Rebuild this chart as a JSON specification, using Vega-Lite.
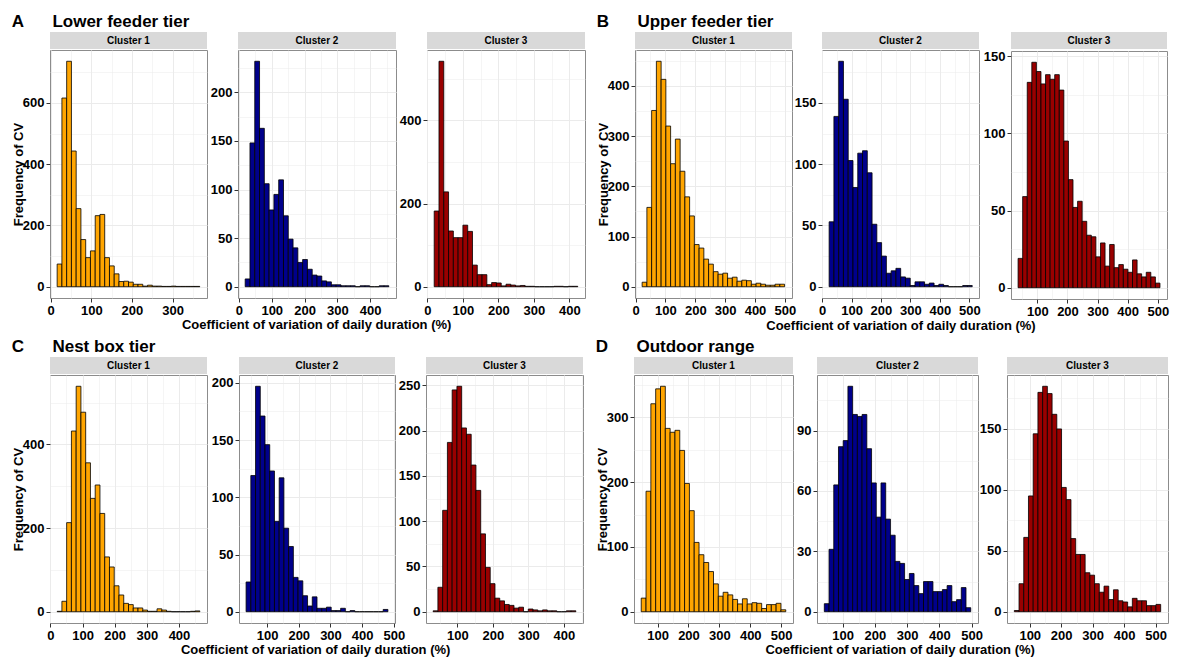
{
  "$schema": "https://vega.github.io/schema/vega-lite/v6.json",
  "background": "white",
  "padding": {"left": 11, "top": 13, "right": 4, "bottom": 2},
  "datasets": {
    "a1": [
      {"x0": 16, "x1": 27.7, "n": 74}, {"x0": 27.7, "x1": 39.4, "n": 616}, {"x0": 39.4, "x1": 51.1, "n": 736},
      {"x0": 51.1, "x1": 62.8, "n": 443}, {"x0": 62.8, "x1": 74.5, "n": 255}, {"x0": 74.5, "x1": 86.2, "n": 154},
      {"x0": 86.2, "x1": 97.9, "n": 95}, {"x0": 97.9, "x1": 109.6, "n": 117}, {"x0": 109.6, "x1": 121.3, "n": 232},
      {"x0": 121.3, "x1": 133, "n": 236}, {"x0": 133, "x1": 144.7, "n": 95}, {"x0": 144.7, "x1": 156.4, "n": 68},
      {"x0": 156.4, "x1": 168.1, "n": 42}, {"x0": 168.1, "x1": 179.8, "n": 17}, {"x0": 179.8, "x1": 191.5, "n": 18},
      {"x0": 191.5, "x1": 203.2, "n": 15}, {"x0": 203.2, "x1": 214.9, "n": 8}, {"x0": 214.9, "x1": 226.6, "n": 8},
      {"x0": 226.6, "x1": 238.3, "n": 2}, {"x0": 238.3, "x1": 250, "n": 5}, {"x0": 250, "x1": 261.7, "n": 2},
      {"x0": 261.7, "x1": 273.4, "n": 2}, {"x0": 273.4, "x1": 285.1, "n": 1}, {"x0": 285.1, "x1": 296.8, "n": 1},
      {"x0": 296.8, "x1": 308.5, "n": 2}, {"x0": 308.5, "x1": 320.2, "n": 1}, {"x0": 320.2, "x1": 331.9, "n": 1},
      {"x0": 331.9, "x1": 343.6, "n": 1}, {"x0": 343.6, "x1": 355.3, "n": 1}, {"x0": 355.3, "x1": 367, "n": 1}
    ],
    "a2": [
      {"x0": 19, "x1": 33.6, "n": 8}, {"x0": 33.6, "x1": 48.2, "n": 148}, {"x0": 48.2, "x1": 62.8, "n": 232},
      {"x0": 62.8, "x1": 77.4, "n": 163}, {"x0": 77.4, "x1": 92, "n": 106}, {"x0": 92, "x1": 106.6, "n": 79},
      {"x0": 106.6, "x1": 121.2, "n": 95}, {"x0": 121.2, "x1": 135.8, "n": 110}, {"x0": 135.8, "x1": 150.4, "n": 73},
      {"x0": 150.4, "x1": 165, "n": 49}, {"x0": 165, "x1": 179.6, "n": 40}, {"x0": 179.6, "x1": 194.2, "n": 25},
      {"x0": 194.2, "x1": 208.8, "n": 28}, {"x0": 208.8, "x1": 223.4, "n": 18}, {"x0": 223.4, "x1": 238, "n": 12},
      {"x0": 238, "x1": 252.6, "n": 11}, {"x0": 252.6, "x1": 267.2, "n": 6}, {"x0": 267.2, "x1": 281.8, "n": 5},
      {"x0": 281.8, "x1": 296.4, "n": 2}, {"x0": 296.4, "x1": 311, "n": 2}, {"x0": 311, "x1": 325.6, "n": 1},
      {"x0": 325.6, "x1": 340.2, "n": 1}, {"x0": 340.2, "x1": 354.8, "n": 1}, {"x0": 354.8, "x1": 369.4, "n": 0},
      {"x0": 369.4, "x1": 384, "n": 1}, {"x0": 384, "x1": 398.6, "n": 1}, {"x0": 398.6, "x1": 413.2, "n": 0},
      {"x0": 413.2, "x1": 427.8, "n": 0}, {"x0": 427.8, "x1": 442.4, "n": 1}, {"x0": 442.4, "x1": 457, "n": 1}
    ],
    "a3": [
      {"x0": 19, "x1": 32.5, "n": 182}, {"x0": 32.5, "x1": 46, "n": 542}, {"x0": 46, "x1": 59.5, "n": 228},
      {"x0": 59.5, "x1": 73, "n": 134}, {"x0": 73, "x1": 86.5, "n": 118}, {"x0": 86.5, "x1": 100, "n": 118},
      {"x0": 100, "x1": 113.5, "n": 148}, {"x0": 113.5, "x1": 127, "n": 133}, {"x0": 127, "x1": 140.5, "n": 52},
      {"x0": 140.5, "x1": 154, "n": 29}, {"x0": 154, "x1": 167.5, "n": 29}, {"x0": 167.5, "x1": 181, "n": 5},
      {"x0": 181, "x1": 194.5, "n": 10}, {"x0": 194.5, "x1": 208, "n": 9}, {"x0": 208, "x1": 221.5, "n": 2},
      {"x0": 221.5, "x1": 235, "n": 6}, {"x0": 235, "x1": 248.5, "n": 4}, {"x0": 248.5, "x1": 262, "n": 2},
      {"x0": 262, "x1": 275.5, "n": 3}, {"x0": 275.5, "x1": 289, "n": 1}, {"x0": 289, "x1": 302.5, "n": 1},
      {"x0": 302.5, "x1": 316, "n": 0}, {"x0": 316, "x1": 329.5, "n": 0}, {"x0": 329.5, "x1": 343, "n": 0},
      {"x0": 343, "x1": 356.5, "n": 0}, {"x0": 356.5, "x1": 370, "n": 1}, {"x0": 370, "x1": 383.5, "n": 1},
      {"x0": 383.5, "x1": 397, "n": 0}, {"x0": 397, "x1": 410.5, "n": 1}, {"x0": 410.5, "x1": 424, "n": 1}
    ],
    "b1": [
      {"x0": 22, "x1": 37.9, "n": 9}, {"x0": 37.9, "x1": 53.8, "n": 158}, {"x0": 53.8, "x1": 69.7, "n": 351},
      {"x0": 69.7, "x1": 85.6, "n": 449}, {"x0": 85.6, "x1": 101.5, "n": 413}, {"x0": 101.5, "x1": 117.4, "n": 320},
      {"x0": 117.4, "x1": 133.3, "n": 245}, {"x0": 133.3, "x1": 149.2, "n": 294}, {"x0": 149.2, "x1": 165.1, "n": 230},
      {"x0": 165.1, "x1": 181, "n": 179}, {"x0": 181, "x1": 196.9, "n": 141}, {"x0": 196.9, "x1": 212.8, "n": 84},
      {"x0": 212.8, "x1": 228.7, "n": 77}, {"x0": 228.7, "x1": 244.6, "n": 55}, {"x0": 244.6, "x1": 260.5, "n": 45},
      {"x0": 260.5, "x1": 276.4, "n": 30}, {"x0": 276.4, "x1": 292.3, "n": 25}, {"x0": 292.3, "x1": 308.2, "n": 27},
      {"x0": 308.2, "x1": 324.1, "n": 17}, {"x0": 324.1, "x1": 340, "n": 19}, {"x0": 340, "x1": 355.9, "n": 11},
      {"x0": 355.9, "x1": 371.8, "n": 13}, {"x0": 371.8, "x1": 387.7, "n": 12}, {"x0": 387.7, "x1": 403.6, "n": 5},
      {"x0": 403.6, "x1": 419.5, "n": 7}, {"x0": 419.5, "x1": 435.4, "n": 5}, {"x0": 435.4, "x1": 451.3, "n": 3},
      {"x0": 451.3, "x1": 467.2, "n": 3}, {"x0": 467.2, "x1": 483.1, "n": 5}, {"x0": 483.1, "x1": 499, "n": 5}
    ],
    "b2": [
      {"x0": 24, "x1": 40.2, "n": 53}, {"x0": 40.2, "x1": 56.4, "n": 139}, {"x0": 56.4, "x1": 72.6, "n": 184},
      {"x0": 72.6, "x1": 88.8, "n": 153}, {"x0": 88.8, "x1": 105, "n": 103}, {"x0": 105, "x1": 121.2, "n": 81},
      {"x0": 121.2, "x1": 137.4, "n": 109}, {"x0": 137.4, "x1": 153.6, "n": 111}, {"x0": 153.6, "x1": 169.8, "n": 93},
      {"x0": 169.8, "x1": 186, "n": 51}, {"x0": 186, "x1": 202.2, "n": 36}, {"x0": 202.2, "x1": 218.4, "n": 25},
      {"x0": 218.4, "x1": 234.6, "n": 11}, {"x0": 234.6, "x1": 250.8, "n": 13}, {"x0": 250.8, "x1": 267, "n": 15},
      {"x0": 267, "x1": 283.2, "n": 8}, {"x0": 283.2, "x1": 299.4, "n": 7}, {"x0": 299.4, "x1": 315.6, "n": 1},
      {"x0": 315.6, "x1": 331.8, "n": 4}, {"x0": 331.8, "x1": 348, "n": 4}, {"x0": 348, "x1": 364.2, "n": 2},
      {"x0": 364.2, "x1": 380.4, "n": 3}, {"x0": 380.4, "x1": 396.6, "n": 1}, {"x0": 396.6, "x1": 412.8, "n": 2},
      {"x0": 412.8, "x1": 429, "n": 1}, {"x0": 429, "x1": 445.2, "n": 0}, {"x0": 445.2, "x1": 461.4, "n": 0},
      {"x0": 461.4, "x1": 477.6, "n": 0}, {"x0": 477.6, "x1": 493.8, "n": 1}, {"x0": 493.8, "x1": 510, "n": 1}
    ],
    "b3": [
      {"x0": 36, "x1": 51.2, "n": 19}, {"x0": 51.2, "x1": 66.4, "n": 59}, {"x0": 66.4, "x1": 81.6, "n": 133},
      {"x0": 81.6, "x1": 96.8, "n": 146}, {"x0": 96.8, "x1": 112, "n": 140}, {"x0": 112, "x1": 127.2, "n": 132},
      {"x0": 127.2, "x1": 142.4, "n": 138}, {"x0": 142.4, "x1": 157.6, "n": 135}, {"x0": 157.6, "x1": 172.8, "n": 138},
      {"x0": 172.8, "x1": 188, "n": 128}, {"x0": 188, "x1": 203.2, "n": 95}, {"x0": 203.2, "x1": 218.4, "n": 70},
      {"x0": 218.4, "x1": 233.6, "n": 52}, {"x0": 233.6, "x1": 248.8, "n": 56}, {"x0": 248.8, "x1": 264, "n": 43},
      {"x0": 264, "x1": 279.2, "n": 34}, {"x0": 279.2, "x1": 294.4, "n": 33}, {"x0": 294.4, "x1": 309.6, "n": 20},
      {"x0": 309.6, "x1": 324.8, "n": 29}, {"x0": 324.8, "x1": 340, "n": 14}, {"x0": 340, "x1": 355.2, "n": 28},
      {"x0": 355.2, "x1": 370.4, "n": 13}, {"x0": 370.4, "x1": 385.6, "n": 15}, {"x0": 385.6, "x1": 400.8, "n": 12},
      {"x0": 400.8, "x1": 416, "n": 10}, {"x0": 416, "x1": 431.2, "n": 18}, {"x0": 431.2, "x1": 446.4, "n": 9},
      {"x0": 446.4, "x1": 461.6, "n": 7}, {"x0": 461.6, "x1": 476.8, "n": 10}, {"x0": 476.8, "x1": 492, "n": 7},
      {"x0": 492, "x1": 507.2, "n": 3}
    ],
    "c1": [
      {"x0": 21, "x1": 35.8, "n": 1}, {"x0": 35.8, "x1": 50.6, "n": 25}, {"x0": 50.6, "x1": 65.4, "n": 213},
      {"x0": 65.4, "x1": 80.2, "n": 432}, {"x0": 80.2, "x1": 95, "n": 539}, {"x0": 95, "x1": 109.8, "n": 477},
      {"x0": 109.8, "x1": 124.6, "n": 356}, {"x0": 124.6, "x1": 139.4, "n": 271}, {"x0": 139.4, "x1": 154.2, "n": 303},
      {"x0": 154.2, "x1": 169, "n": 235}, {"x0": 169, "x1": 183.8, "n": 131}, {"x0": 183.8, "x1": 198.6, "n": 107},
      {"x0": 198.6, "x1": 213.4, "n": 62}, {"x0": 213.4, "x1": 228.2, "n": 40}, {"x0": 228.2, "x1": 243, "n": 20},
      {"x0": 243, "x1": 257.8, "n": 17}, {"x0": 257.8, "x1": 272.6, "n": 9}, {"x0": 272.6, "x1": 287.4, "n": 9},
      {"x0": 287.4, "x1": 302.2, "n": 4}, {"x0": 302.2, "x1": 317, "n": 1}, {"x0": 317, "x1": 331.8, "n": 1},
      {"x0": 331.8, "x1": 346.6, "n": 7}, {"x0": 346.6, "x1": 361.4, "n": 4}, {"x0": 361.4, "x1": 376.2, "n": 1},
      {"x0": 376.2, "x1": 391, "n": 0}, {"x0": 391, "x1": 405.8, "n": 0}, {"x0": 405.8, "x1": 420.6, "n": 0},
      {"x0": 420.6, "x1": 435.4, "n": 0}, {"x0": 435.4, "x1": 450.2, "n": 1}, {"x0": 450.2, "x1": 465, "n": 2}
    ],
    "c2": [
      {"x0": 34, "x1": 48.9, "n": 26}, {"x0": 48.9, "x1": 63.8, "n": 119}, {"x0": 63.8, "x1": 78.7, "n": 197},
      {"x0": 78.7, "x1": 93.6, "n": 171}, {"x0": 93.6, "x1": 108.5, "n": 146}, {"x0": 108.5, "x1": 123.4, "n": 123},
      {"x0": 123.4, "x1": 138.3, "n": 79}, {"x0": 138.3, "x1": 153.2, "n": 117}, {"x0": 153.2, "x1": 168.1, "n": 73},
      {"x0": 168.1, "x1": 183, "n": 57}, {"x0": 183, "x1": 197.9, "n": 30}, {"x0": 197.9, "x1": 212.8, "n": 27},
      {"x0": 212.8, "x1": 227.7, "n": 14}, {"x0": 227.7, "x1": 242.6, "n": 5}, {"x0": 242.6, "x1": 257.5, "n": 13},
      {"x0": 257.5, "x1": 272.4, "n": 3}, {"x0": 272.4, "x1": 287.3, "n": 3}, {"x0": 287.3, "x1": 302.2, "n": 4},
      {"x0": 302.2, "x1": 317.1, "n": 1}, {"x0": 317.1, "x1": 332, "n": 1}, {"x0": 332, "x1": 346.9, "n": 3},
      {"x0": 346.9, "x1": 361.8, "n": 0}, {"x0": 361.8, "x1": 376.7, "n": 1}, {"x0": 376.7, "x1": 391.6, "n": 0},
      {"x0": 391.6, "x1": 406.5, "n": 0}, {"x0": 406.5, "x1": 421.4, "n": 0}, {"x0": 421.4, "x1": 436.3, "n": 0},
      {"x0": 436.3, "x1": 451.2, "n": 0}, {"x0": 451.2, "x1": 466.1, "n": 0}, {"x0": 466.1, "x1": 481, "n": 2}
    ],
    "c3": [
      {"x0": 32, "x1": 45.4, "n": 1}, {"x0": 45.4, "x1": 58.8, "n": 27}, {"x0": 58.8, "x1": 72.2, "n": 112},
      {"x0": 72.2, "x1": 85.6, "n": 187}, {"x0": 85.6, "x1": 99, "n": 245}, {"x0": 99, "x1": 112.4, "n": 249},
      {"x0": 112.4, "x1": 125.8, "n": 203}, {"x0": 125.8, "x1": 139.2, "n": 196}, {"x0": 139.2, "x1": 152.6, "n": 162},
      {"x0": 152.6, "x1": 166, "n": 134}, {"x0": 166, "x1": 179.4, "n": 86}, {"x0": 179.4, "x1": 192.8, "n": 49},
      {"x0": 192.8, "x1": 206.2, "n": 31}, {"x0": 206.2, "x1": 219.6, "n": 15}, {"x0": 219.6, "x1": 233, "n": 12},
      {"x0": 233, "x1": 246.4, "n": 8}, {"x0": 246.4, "x1": 259.8, "n": 7}, {"x0": 259.8, "x1": 273.2, "n": 4},
      {"x0": 273.2, "x1": 286.6, "n": 5}, {"x0": 286.6, "x1": 300, "n": 0}, {"x0": 300, "x1": 313.4, "n": 3},
      {"x0": 313.4, "x1": 326.8, "n": 2}, {"x0": 326.8, "x1": 340.2, "n": 1}, {"x0": 340.2, "x1": 353.6, "n": 2},
      {"x0": 353.6, "x1": 367, "n": 1}, {"x0": 367, "x1": 380.4, "n": 1}, {"x0": 380.4, "x1": 393.8, "n": 0},
      {"x0": 393.8, "x1": 407.2, "n": 0}, {"x0": 407.2, "x1": 420.6, "n": 1}, {"x0": 420.6, "x1": 434, "n": 1}
    ],
    "d1": [
      {"x0": 47, "x1": 62.6, "n": 21}, {"x0": 62.6, "x1": 78.2, "n": 186}, {"x0": 78.2, "x1": 93.8, "n": 321},
      {"x0": 93.8, "x1": 109.4, "n": 344}, {"x0": 109.4, "x1": 125, "n": 348}, {"x0": 125, "x1": 140.6, "n": 283},
      {"x0": 140.6, "x1": 156.2, "n": 277}, {"x0": 156.2, "x1": 171.8, "n": 280}, {"x0": 171.8, "x1": 187.4, "n": 249},
      {"x0": 187.4, "x1": 203, "n": 198}, {"x0": 203, "x1": 218.6, "n": 156}, {"x0": 218.6, "x1": 234.2, "n": 107},
      {"x0": 234.2, "x1": 249.8, "n": 88}, {"x0": 249.8, "x1": 265.4, "n": 76}, {"x0": 265.4, "x1": 281, "n": 62},
      {"x0": 281, "x1": 296.6, "n": 43}, {"x0": 296.6, "x1": 312.2, "n": 24}, {"x0": 312.2, "x1": 327.8, "n": 30},
      {"x0": 327.8, "x1": 343.4, "n": 26}, {"x0": 343.4, "x1": 359, "n": 19}, {"x0": 359, "x1": 374.6, "n": 12},
      {"x0": 374.6, "x1": 390.2, "n": 20}, {"x0": 390.2, "x1": 405.8, "n": 12}, {"x0": 405.8, "x1": 421.4, "n": 14},
      {"x0": 421.4, "x1": 437, "n": 13}, {"x0": 437, "x1": 452.6, "n": 5}, {"x0": 452.6, "x1": 468.2, "n": 11},
      {"x0": 468.2, "x1": 483.8, "n": 11}, {"x0": 483.8, "x1": 499.4, "n": 13}, {"x0": 499.4, "x1": 515, "n": 3}
    ],
    "d2": [
      {"x0": 43, "x1": 57.65, "n": 4}, {"x0": 57.65, "x1": 72.3, "n": 31}, {"x0": 72.3, "x1": 86.95, "n": 63},
      {"x0": 86.95, "x1": 101.6, "n": 82}, {"x0": 101.6, "x1": 116.25, "n": 85}, {"x0": 116.25, "x1": 130.9, "n": 112},
      {"x0": 130.9, "x1": 145.55, "n": 98}, {"x0": 145.55, "x1": 160.2, "n": 97}, {"x0": 160.2, "x1": 174.85, "n": 98},
      {"x0": 174.85, "x1": 189.5, "n": 81}, {"x0": 189.5, "x1": 204.15, "n": 64}, {"x0": 204.15, "x1": 218.8, "n": 47},
      {"x0": 218.8, "x1": 233.45, "n": 64}, {"x0": 233.45, "x1": 248.1, "n": 46}, {"x0": 248.1, "x1": 262.75, "n": 38},
      {"x0": 262.75, "x1": 277.4, "n": 25}, {"x0": 277.4, "x1": 292.05, "n": 24}, {"x0": 292.05, "x1": 306.7, "n": 16},
      {"x0": 306.7, "x1": 321.35, "n": 19}, {"x0": 321.35, "x1": 336, "n": 13}, {"x0": 336, "x1": 350.65, "n": 9},
      {"x0": 350.65, "x1": 365.3, "n": 15}, {"x0": 365.3, "x1": 379.95, "n": 15}, {"x0": 379.95, "x1": 394.6, "n": 10},
      {"x0": 394.6, "x1": 409.25, "n": 10}, {"x0": 409.25, "x1": 423.9, "n": 11}, {"x0": 423.9, "x1": 438.55, "n": 13},
      {"x0": 438.55, "x1": 453.2, "n": 5}, {"x0": 453.2, "x1": 467.85, "n": 6}, {"x0": 467.85, "x1": 482.5, "n": 12},
      {"x0": 482.5, "x1": 497.15, "n": 2}
    ],
    "d3": [
      {"x0": 51, "x1": 66, "n": 1}, {"x0": 66, "x1": 81, "n": 23}, {"x0": 81, "x1": 96, "n": 61},
      {"x0": 96, "x1": 111, "n": 95}, {"x0": 111, "x1": 126, "n": 146}, {"x0": 126, "x1": 141, "n": 180},
      {"x0": 141, "x1": 156, "n": 185}, {"x0": 156, "x1": 171, "n": 179}, {"x0": 171, "x1": 186, "n": 162},
      {"x0": 186, "x1": 201, "n": 150}, {"x0": 201, "x1": 216, "n": 102}, {"x0": 216, "x1": 231, "n": 92},
      {"x0": 231, "x1": 246, "n": 60}, {"x0": 246, "x1": 261, "n": 47}, {"x0": 261, "x1": 276, "n": 47},
      {"x0": 276, "x1": 291, "n": 32}, {"x0": 291, "x1": 306, "n": 30}, {"x0": 306, "x1": 321, "n": 23},
      {"x0": 321, "x1": 336, "n": 16}, {"x0": 336, "x1": 351, "n": 21}, {"x0": 351, "x1": 366, "n": 10},
      {"x0": 366, "x1": 381, "n": 18}, {"x0": 381, "x1": 396, "n": 9}, {"x0": 396, "x1": 411, "n": 8},
      {"x0": 411, "x1": 426, "n": 4}, {"x0": 426, "x1": 441, "n": 11}, {"x0": 441, "x1": 456, "n": 9},
      {"x0": 456, "x1": 471, "n": 9}, {"x0": 471, "x1": 486, "n": 5}, {"x0": 486, "x1": 501, "n": 5},
      {"x0": 501, "x1": 516, "n": 6}
    ]
  },
  "vconcat": [
    {
      "spacing": 10,
      "hconcat": [
        {
          "title": {"text": "A\u00a0\u00a0\u00a0\u00a0\u00a0\u00a0Lower feeder tier"},
          "vconcat": [{
          "title": {"text": "Coefficient of variation of daily duration (%)", "orient": "bottom", "anchor": "middle", "fontSize": 13, "offset": 1, "dx": 18},
          "spacing": 1,
          "hconcat": [
            {"spacing": 0, "vconcat": [
              {"width": 157, "height": 17, "view": {"fill": "#d9d9d9"}, "data": {"values": [{"label": "Cluster 1"}]}, "mark": {"type": "text", "style": "strip"}, "encoding": {"text": {"field": "label"}}},
              {"width": 157, "height": 248, "data": {"name": "a1"}, "mark": {"type": "rect", "fill": "#FFA500"},
               "encoding": {
                 "x": {"field": "x0", "type": "quantitative", "scale": {"domain": [-1.6, 384.6], "nice": false, "zero": false},
                       "axis": {"title": null, "values": [0, 50, 100, 150, 200, 250, 300, 350], "labelExpr": "datum.value % 100 ? '' : datum.label", "tickOpacity": {"condition": {"test": "datum.value % 100", "value": 0}, "value": 1}, "gridWidth": {"condition": {"test": "datum.value % 100", "value": 0.5}, "value": 1}}},
                 "x2": {"field": "x1"},
                 "y": {"field": "n", "type": "quantitative", "scale": {"domain": [-36.8, 772.8], "nice": false},
                       "axis": {"title": "Frequency of CV", "values": [0, 100, 200, 300, 400, 500, 600, 700], "labelExpr": "datum.value % 200 ? '' : datum.label", "tickOpacity": {"condition": {"test": "datum.value % 200", "value": 0}, "value": 1}, "gridWidth": {"condition": {"test": "datum.value % 200", "value": 0.5}, "value": 1}}},
                 "y2": {"datum": 0}
               }}
            ]},
            {"spacing": 1, "hconcat": [
            {"spacing": 0, "vconcat": [
              {"width": 158, "height": 17, "view": {"fill": "#d9d9d9"}, "data": {"values": [{"label": "Cluster 2"}]}, "mark": {"type": "text", "style": "strip"}, "encoding": {"text": {"field": "label"}}},
              {"width": 158, "height": 248, "data": {"name": "a2"}, "mark": {"type": "rect", "fill": "#00008B"},
               "encoding": {
                 "x": {"field": "x0", "type": "quantitative", "scale": {"domain": [-2.9, 478.9], "nice": false, "zero": false},
                       "axis": {"title": null, "values": [0, 50, 100, 150, 200, 250, 300, 350, 400, 450], "labelExpr": "datum.value % 100 ? '' : datum.label", "tickOpacity": {"condition": {"test": "datum.value % 100", "value": 0}, "value": 1}, "gridWidth": {"condition": {"test": "datum.value % 100", "value": 0.5}, "value": 1}}},
                 "x2": {"field": "x1"},
                 "y": {"field": "n", "type": "quantitative", "scale": {"domain": [-11.6, 243.6], "nice": false},
                       "axis": {"title": null, "values": [0, 25, 50, 75, 100, 125, 150, 175, 200, 225], "labelExpr": "datum.value % 50 ? '' : datum.label", "tickOpacity": {"condition": {"test": "datum.value % 50", "value": 0}, "value": 1}, "gridWidth": {"condition": {"test": "datum.value % 50", "value": 0.5}, "value": 1}}},
                 "y2": {"datum": 0}
               }}
            ]},
            {"spacing": 0, "vconcat": [
              {"width": 158, "height": 17, "view": {"fill": "#d9d9d9"}, "data": {"values": [{"label": "Cluster 3"}]}, "mark": {"type": "text", "style": "strip"}, "encoding": {"text": {"field": "label"}}},
              {"width": 158, "height": 248, "data": {"name": "a3"}, "mark": {"type": "rect", "fill": "#990000"},
               "encoding": {
                 "x": {"field": "x0", "type": "quantitative", "scale": {"domain": [-1.3, 444.3], "nice": false, "zero": false},
                       "axis": {"title": null, "values": [0, 50, 100, 150, 200, 250, 300, 350, 400], "labelExpr": "datum.value % 100 ? '' : datum.label", "tickOpacity": {"condition": {"test": "datum.value % 100", "value": 0}, "value": 1}, "gridWidth": {"condition": {"test": "datum.value % 100", "value": 0.5}, "value": 1}}},
                 "x2": {"field": "x1"},
                 "y": {"field": "n", "type": "quantitative", "scale": {"domain": [-27.1, 569.1], "nice": false},
                       "axis": {"title": null, "values": [0, 100, 200, 300, 400, 500], "labelExpr": "datum.value % 200 ? '' : datum.label", "tickOpacity": {"condition": {"test": "datum.value % 200", "value": 0}, "value": 1}, "gridWidth": {"condition": {"test": "datum.value % 200", "value": 0.5}, "value": 1}}},
                 "y2": {"datum": 0}
               }}
            ]}
            ]}
          ]}]
        },
        {
          "title": {"text": "B\u00a0\u00a0\u00a0\u00a0\u00a0\u00a0Upper feeder tier"},
          "vconcat": [{
          "title": {"text": "Coefficient of variation of daily duration (%)", "orient": "bottom", "anchor": "middle", "fontSize": 13, "offset": 1, "dx": 18},
          "spacing": -4,
          "hconcat": [
            {"spacing": 0, "vconcat": [
              {"width": 157, "height": 17, "view": {"fill": "#d9d9d9"}, "data": {"values": [{"label": "Cluster 1"}]}, "mark": {"type": "text", "style": "strip"}, "encoding": {"text": {"field": "label"}}},
              {"width": 157, "height": 248, "data": {"name": "b1"}, "mark": {"type": "rect", "fill": "#FFA500"},
               "encoding": {
                 "x": {"field": "x0", "type": "quantitative", "scale": {"domain": [-1.9, 523.9], "nice": false, "zero": false},
                       "axis": {"title": null, "values": [0, 50, 100, 150, 200, 250, 300, 350, 400, 450, 500], "labelExpr": "datum.value % 100 ? '' : datum.label", "tickOpacity": {"condition": {"test": "datum.value % 100", "value": 0}, "value": 1}, "gridWidth": {"condition": {"test": "datum.value % 100", "value": 0.5}, "value": 1}}},
                 "x2": {"field": "x1"},
                 "y": {"field": "n", "type": "quantitative", "scale": {"domain": [-22.45, 471.45], "nice": false},
                       "axis": {"title": "Frequency of CV", "values": [0, 50, 100, 150, 200, 250, 300, 350, 400, 450], "labelExpr": "datum.value % 100 ? '' : datum.label", "tickOpacity": {"condition": {"test": "datum.value % 100", "value": 0}, "value": 1}, "gridWidth": {"condition": {"test": "datum.value % 100", "value": 0.5}, "value": 1}}},
                 "y2": {"datum": 0}
               }}
            ]},
            {"spacing": 1, "hconcat": [
            {"spacing": 0, "vconcat": [
              {"width": 157, "height": 17, "view": {"fill": "#d9d9d9"}, "data": {"values": [{"label": "Cluster 2"}]}, "mark": {"type": "text", "style": "strip"}, "encoding": {"text": {"field": "label"}}},
              {"width": 157, "height": 248, "data": {"name": "b2"}, "mark": {"type": "rect", "fill": "#00008B"},
               "encoding": {
                 "x": {"field": "x0", "type": "quantitative", "scale": {"domain": [-0.25, 533], "nice": false, "zero": false},
                       "axis": {"title": null, "values": [0, 50, 100, 150, 200, 250, 300, 350, 400, 450, 500], "labelExpr": "datum.value % 100 ? '' : datum.label", "tickOpacity": {"condition": {"test": "datum.value % 100", "value": 0}, "value": 1}, "gridWidth": {"condition": {"test": "datum.value % 100", "value": 0.5}, "value": 1}}},
                 "x2": {"field": "x1"},
                 "y": {"field": "n", "type": "quantitative", "scale": {"domain": [-9.2, 193.2], "nice": false},
                       "axis": {"title": null, "values": [0, 25, 50, 75, 100, 125, 150, 175], "labelExpr": "datum.value % 50 ? '' : datum.label", "tickOpacity": {"condition": {"test": "datum.value % 50", "value": 0}, "value": 1}, "gridWidth": {"condition": {"test": "datum.value % 50", "value": 0.5}, "value": 1}}},
                 "y2": {"datum": 0}
               }}
            ]},
            {"spacing": 0, "vconcat": [
              {"width": 156, "height": 17, "view": {"fill": "#d9d9d9"}, "data": {"values": [{"label": "Cluster 3"}]}, "mark": {"type": "text", "style": "strip"}, "encoding": {"text": {"field": "label"}}},
              {"width": 156, "height": 248, "data": {"name": "b3"}, "mark": {"type": "rect", "fill": "#990000"},
               "encoding": {
                 "x": {"field": "x0", "type": "quantitative", "scale": {"domain": [12.45, 530.55], "nice": false, "zero": false},
                       "axis": {"title": null, "values": [50, 100, 150, 200, 250, 300, 350, 400, 450, 500], "labelExpr": "datum.value % 100 ? '' : datum.label", "tickOpacity": {"condition": {"test": "datum.value % 100", "value": 0}, "value": 1}, "gridWidth": {"condition": {"test": "datum.value % 100", "value": 0.5}, "value": 1}}},
                 "x2": {"field": "x1"},
                 "y": {"field": "n", "type": "quantitative", "scale": {"domain": [-7.3, 153.3], "nice": false},
                       "axis": {"title": null, "values": [0, 25, 50, 75, 100, 125, 150], "labelExpr": "datum.value % 50 ? '' : datum.label", "tickOpacity": {"condition": {"test": "datum.value % 50", "value": 0}, "value": 1}, "gridWidth": {"condition": {"test": "datum.value % 50", "value": 0.5}, "value": 1}}},
                 "y2": {"datum": 0}
               }}
            ]}
            ]}
          ]}]
        }
      ]
    },
    {
      "spacing": 11,
      "hconcat": [
        {
          "title": {"text": "C\u00a0\u00a0\u00a0\u00a0\u00a0\u00a0Nest box tier"},
          "vconcat": [{
          "title": {"text": "Coefficient of variation of daily duration (%)", "orient": "bottom", "anchor": "middle", "fontSize": 13, "offset": 1, "dx": 18},
          "spacing": 2,
          "hconcat": [
            {"spacing": 0, "vconcat": [
              {"width": 157, "height": 17, "view": {"fill": "#d9d9d9"}, "data": {"values": [{"label": "Cluster 1"}]}, "mark": {"type": "text", "style": "strip"}, "encoding": {"text": {"field": "label"}}},
              {"width": 157, "height": 248, "data": {"name": "c1"}, "mark": {"type": "rect", "fill": "#FFA500"},
               "encoding": {
                 "x": {"field": "x0", "type": "quantitative", "scale": {"domain": [-1.2, 487.2], "nice": false, "zero": false},
                       "axis": {"title": null, "values": [0, 50, 100, 150, 200, 250, 300, 350, 400, 450], "labelExpr": "datum.value % 100 ? '' : datum.label", "tickOpacity": {"condition": {"test": "datum.value % 100", "value": 0}, "value": 1}, "gridWidth": {"condition": {"test": "datum.value % 100", "value": 0.5}, "value": 1}}},
                 "x2": {"field": "x1"},
                 "y": {"field": "n", "type": "quantitative", "scale": {"domain": [-26.95, 565.95], "nice": false},
                       "axis": {"title": "Frequency of CV", "values": [0, 100, 200, 300, 400, 500], "labelExpr": "datum.value % 200 ? '' : datum.label", "tickOpacity": {"condition": {"test": "datum.value % 200", "value": 0}, "value": 1}, "gridWidth": {"condition": {"test": "datum.value % 200", "value": 0.5}, "value": 1}}},
                 "y2": {"datum": 0}
               }}
            ]},
            {"spacing": -9, "hconcat": [
            {"spacing": 0, "vconcat": [
              {"width": 156, "height": 17, "view": {"fill": "#d9d9d9"}, "data": {"values": [{"label": "Cluster 2"}]}, "mark": {"type": "text", "style": "strip"}, "encoding": {"text": {"field": "label"}}},
              {"width": 156, "height": 248, "data": {"name": "c2"}, "mark": {"type": "rect", "fill": "#00008B"},
               "encoding": {
                 "x": {"field": "x0", "type": "quantitative", "scale": {"domain": [11.65, 503.35], "nice": false, "zero": false},
                       "axis": {"title": null, "values": [50, 100, 150, 200, 250, 300, 350, 400, 450, 500], "labelExpr": "datum.value % 100 ? '' : datum.label", "tickOpacity": {"condition": {"test": "datum.value % 100", "value": 0}, "value": 1}, "gridWidth": {"condition": {"test": "datum.value % 100", "value": 0.5}, "value": 1}}},
                 "x2": {"field": "x1"},
                 "y": {"field": "n", "type": "quantitative", "scale": {"domain": [-9.85, 206.85], "nice": false},
                       "axis": {"title": null, "values": [0, 25, 50, 75, 100, 125, 150, 175, 200], "labelExpr": "datum.value % 50 ? '' : datum.label", "tickOpacity": {"condition": {"test": "datum.value % 50", "value": 0}, "value": 1}, "gridWidth": {"condition": {"test": "datum.value % 50", "value": 0.5}, "value": 1}}},
                 "y2": {"datum": 0}
               }}
            ]},
            {"spacing": 0, "vconcat": [
              {"width": 157, "height": 17, "view": {"fill": "#d9d9d9"}, "data": {"values": [{"label": "Cluster 3"}]}, "mark": {"type": "text", "style": "strip"}, "encoding": {"text": {"field": "label"}}},
              {"width": 157, "height": 248, "data": {"name": "c3"}, "mark": {"type": "rect", "fill": "#990000"},
               "encoding": {
                 "x": {"field": "x0", "type": "quantitative", "scale": {"domain": [11.9, 454.1], "nice": false, "zero": false},
                       "axis": {"title": null, "values": [50, 100, 150, 200, 250, 300, 350, 400, 450], "labelExpr": "datum.value % 100 ? '' : datum.label", "tickOpacity": {"condition": {"test": "datum.value % 100", "value": 0}, "value": 1}, "gridWidth": {"condition": {"test": "datum.value % 100", "value": 0.5}, "value": 1}}},
                 "x2": {"field": "x1"},
                 "y": {"field": "n", "type": "quantitative", "scale": {"domain": [-12.45, 261.45], "nice": false},
                       "axis": {"title": null, "values": [0, 25, 50, 75, 100, 125, 150, 175, 200, 225, 250], "labelExpr": "datum.value % 50 ? '' : datum.label", "tickOpacity": {"condition": {"test": "datum.value % 50", "value": 0}, "value": 1}, "gridWidth": {"condition": {"test": "datum.value % 50", "value": 0.5}, "value": 1}}},
                 "y2": {"datum": 0}
               }}
            ]}
            ]}
          ]}]
        },
        {
          "title": {"text": "D\u00a0\u00a0\u00a0\u00a0\u00a0\u00a0Outdoor range"},
          "vconcat": [{
          "title": {"text": "Coefficient of variation of daily duration (%)", "orient": "bottom", "anchor": "middle", "fontSize": 13, "offset": 1, "dx": 18},
          "spacing": 2,
          "hconcat": [
            {"spacing": 0, "vconcat": [
              {"width": 159, "height": 17, "view": {"fill": "#d9d9d9"}, "data": {"values": [{"label": "Cluster 1"}]}, "mark": {"type": "text", "style": "strip"}, "encoding": {"text": {"field": "label"}}},
              {"width": 159, "height": 248, "data": {"name": "d1"}, "mark": {"type": "rect", "fill": "#FFA500"},
               "encoding": {
                 "x": {"field": "x0", "type": "quantitative", "scale": {"domain": [23.6, 538.4], "nice": false, "zero": false},
                       "axis": {"title": null, "values": [50, 100, 150, 200, 250, 300, 350, 400, 450, 500], "labelExpr": "datum.value % 100 ? '' : datum.label", "tickOpacity": {"condition": {"test": "datum.value % 100", "value": 0}, "value": 1}, "gridWidth": {"condition": {"test": "datum.value % 100", "value": 0.5}, "value": 1}}},
                 "x2": {"field": "x1"},
                 "y": {"field": "n", "type": "quantitative", "scale": {"domain": [-17.4, 365.4], "nice": false},
                       "axis": {"title": "Frequency of CV", "values": [0, 50, 100, 150, 200, 250, 300, 350], "labelExpr": "datum.value % 100 ? '' : datum.label", "tickOpacity": {"condition": {"test": "datum.value % 100", "value": 0}, "value": 1}, "gridWidth": {"condition": {"test": "datum.value % 100", "value": 0.5}, "value": 1}}},
                 "y2": {"datum": 0}
               }}
            ]},
            {"spacing": -5, "hconcat": [
            {"spacing": 0, "vconcat": [
              {"width": 161, "height": 17, "view": {"fill": "#d9d9d9"}, "data": {"values": [{"label": "Cluster 2"}]}, "mark": {"type": "text", "style": "strip"}, "encoding": {"text": {"field": "label"}}},
              {"width": 161, "height": 248, "data": {"name": "d2"}, "mark": {"type": "rect", "fill": "#00008B"},
               "encoding": {
                 "x": {"field": "x0", "type": "quantitative", "scale": {"domain": [20.3, 519.7], "nice": false, "zero": false},
                       "axis": {"title": null, "values": [50, 100, 150, 200, 250, 300, 350, 400, 450, 500], "labelExpr": "datum.value % 100 ? '' : datum.label", "tickOpacity": {"condition": {"test": "datum.value % 100", "value": 0}, "value": 1}, "gridWidth": {"condition": {"test": "datum.value % 100", "value": 0.5}, "value": 1}}},
                 "x2": {"field": "x1"},
                 "y": {"field": "n", "type": "quantitative", "scale": {"domain": [-5.6, 117.6], "nice": false},
                       "axis": {"title": null, "values": [0, 15, 30, 45, 60, 75, 90, 105], "labelExpr": "datum.value % 30 ? '' : datum.label", "tickOpacity": {"condition": {"test": "datum.value % 30", "value": 0}, "value": 1}, "gridWidth": {"condition": {"test": "datum.value % 30", "value": 0.5}, "value": 1}}},
                 "y2": {"datum": 0}
               }}
            ]},
            {"spacing": 0, "vconcat": [
              {"width": 161, "height": 17, "view": {"fill": "#d9d9d9"}, "data": {"values": [{"label": "Cluster 3"}]}, "mark": {"type": "text", "style": "strip"}, "encoding": {"text": {"field": "label"}}},
              {"width": 161, "height": 248, "data": {"name": "d3"}, "mark": {"type": "rect", "fill": "#990000"},
               "encoding": {
                 "x": {"field": "x0", "type": "quantitative", "scale": {"domain": [27.75, 539.25], "nice": false, "zero": false},
                       "axis": {"title": null, "values": [50, 100, 150, 200, 250, 300, 350, 400, 450, 500], "labelExpr": "datum.value % 100 ? '' : datum.label", "tickOpacity": {"condition": {"test": "datum.value % 100", "value": 0}, "value": 1}, "gridWidth": {"condition": {"test": "datum.value % 100", "value": 0.5}, "value": 1}}},
                 "x2": {"field": "x1"},
                 "y": {"field": "n", "type": "quantitative", "scale": {"domain": [-9.25, 194.25], "nice": false},
                       "axis": {"title": null, "values": [0, 25, 50, 75, 100, 125, 150, 175], "labelExpr": "datum.value % 50 ? '' : datum.label", "tickOpacity": {"condition": {"test": "datum.value % 50", "value": 0}, "value": 1}, "gridWidth": {"condition": {"test": "datum.value % 50", "value": 0.5}, "value": 1}}},
                 "y2": {"datum": 0}
               }}
            ]}
            ]}
          ]}]
        }
      ]
    }
  ],
  "spacing": 5,
  "config": {
    "font": "Liberation Sans",
    "view": {"stroke": "#8c8c8c", "strokeWidth": 1},
    "title": {"anchor": "start", "fontSize": 17, "fontWeight": "bold", "color": "black", "offset": 1},
    "rect": {"stroke": "black", "strokeWidth": 0.8},
    "style": {"strip": {"fontSize": 10, "fontWeight": "bold", "fill": "#1a1a1a"}},
    "axis": {
      "labelFontSize": 13, "labelFontWeight": "bold", "labelColor": "black",
      "titleFontSize": 13, "titleFontWeight": "bold", "titleColor": "black",
      "tickColor": "#333333", "tickSize": 4, "labelPadding": 2, "domain": false,
      "gridColor": "#ebebeb", "labelOverlap": false, "labelFlush": false, "labelBound": false
    },
    "axisY": {"titlePadding": -3},
    "axisX": {"titlePadding": 2}
  }
}
